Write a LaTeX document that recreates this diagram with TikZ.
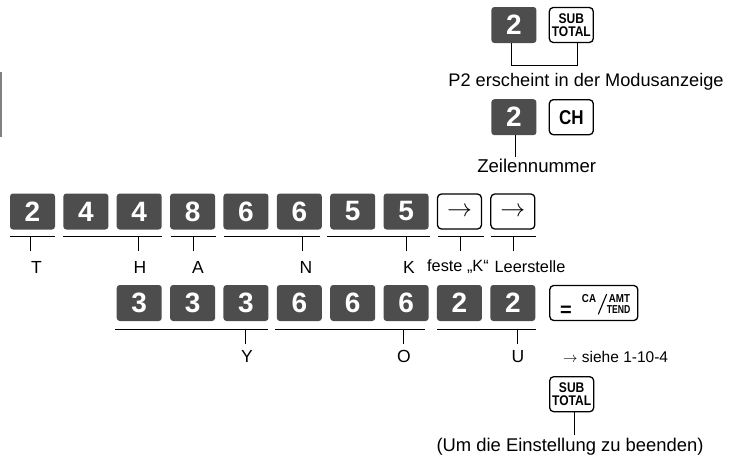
\documentclass[tikz,border=0pt]{standalone}
\usepackage{fontspec}
\setmainfont{Liberation Sans}
\definecolor{keygray}{HTML}{4D4D4D}
\tikzset{
  dkey/.style={fill=keygray, rounded corners=3pt, minimum width=45pt, minimum height=36pt, inner sep=0pt, text=white, font=\fontsize{28}{28}\selectfont\bfseries},
  wkey/.style={draw=black, line width=1.3pt, fill=white, rounded corners=4pt, minimum width=44pt, minimum height=35pt, inner sep=0pt},
  subkey/.style={wkey, font=\fontsize{14}{13.6}\selectfont\bfseries, align=center},
  lbl/.style={font=\fontsize{17.5}{18}\selectfont, inner sep=0pt},
  slbl/.style={font=\fontsize{16.3}{18}\selectfont, inner sep=0pt},
  stxt/.style={inner sep=0pt, font=\fontsize{11.5}{11.5}\selectfont\bfseries},
  uline/.style={line width=0.9pt},
}
\newcommand{\subtotaltext}{\scalebox{0.86}[1]{SUB}\\\scalebox{0.86}[1]{TOTAL}}
\begin{document}
\begin{tikzpicture}[x=1pt,y=-1pt]
\useasboundingbox (0,0) rectangle (736,463);
% left margin mark
\draw[gray, line width=1.5pt] (0.75,72) -- (0.75,137);

% ---- top: 2 SUBTOTAL
\node[dkey] (t2) at (513.9,25) {2};
\node[subkey] (tsub) at (571.3,25) {\subtotaltext};
\coordinate (bra) at (511,65);
\coordinate (brb) at (577.3,65);
\draw[uline] (t2.south -| bra) -- (bra) -- (brb) -- (tsub.south -| brb);
\node[font=\fontsize{18.2}{20}\selectfont, inner sep=0pt] (tmsg) at (586,81.7) {P2 erscheint in der Modusanzeige};

% ---- 2 CH
\node[dkey] (c2) at (513.9,117.2) {2};
\node[wkey, font=\fontsize{20}{20}\selectfont\bfseries] (ch) at (571.3,117.2) {\scalebox{0.85}[1]{CH}};
\coordinate (ctick) at (515,156.7);
\draw[uline] (c2.south -| ctick) -- (ctick);
\node[font=\fontsize{18.6}{20}\selectfont, inner sep=0pt] (zeile) at (536.7,165.7) {Zeilennummer};

% ---- row 1
\foreach \d/\i in {2/0,4/1,4/2,8/3,6/4,6/5,5/6,5/7}
  \node[dkey] (ra\i) at ({32.5+53.37*\i},211.5) {\d};
\foreach \i in {8,9}
  \node[wkey] (ra\i) at ({32.5+53.37*\i},211.5) {\fontsize{28}{28}\selectfont$\rightarrow$};

\foreach \n/\a/\b/\t in {T/10/55/30, H/63/162/138.5, A/171/216/193, N/224/320/302.5, K/327/430/406, F/438/484/460, L/491/536/513} {
  \coordinate (ua\n) at (\a,236);
  \coordinate (ub\n) at (\b,236);
  \coordinate (ut\n) at (\t,236);
  \coordinate (ud\n) at (\t,251);
  \draw[uline] (ua\n) -- (ub\n);
  \draw[uline] (ut\n) -- (ud\n);
}
\node[lbl] (lT) at (36.5,267) {T};
\node[lbl] (lH) at (140,267) {H};
\node[lbl] (lA) at (198,267) {A};
\node[lbl] (lN) at (306,267) {N};
\node[lbl] (lK) at (409,267) {K};
\node[slbl] (lF) at (458,267) {feste „K“};
\node[slbl] (lL) at (530,267) {Leerstelle};

% ---- row 2
\foreach \d/\i in {3/2,3/3,3/4,6/5,6/6,6/7,2/8,2/9}
  \node[dkey] (rb\i) at ({32.5+53.37*\i},303) {\d};
\node[wkey, minimum width=88pt] (catend) at (593.8,303) {};
\node[inner sep=0pt, font=\fontsize{20}{20}\selectfont\bfseries] (eqs) at (566,311) {=};
\node[stxt] (ca) at (589,299) {\scalebox{0.85}[1]{CA}};
\node[stxt] (amt) at (619.5,299) {\scalebox{0.85}[1]{AMT}};
\node[stxt] (tend) at (618.7,310) {\scalebox{0.75}[1]{TEND}};
\coordinate (sla) at (598.3,314.3);
\coordinate (slb) at (606.7,294);
\draw[line width=1.1pt] (sla) -- (slb);

\foreach \n/\a/\b/\t in {Y/115/268/245, O/275/425/403, U/437/536/517} {
  \coordinate (va\n) at (\a,329.5);
  \coordinate (vb\n) at (\b,329.5);
  \coordinate (vt\n) at (\t,329.5);
  \coordinate (vd\n) at (\t,343.5);
  \draw[uline] (va\n) -- (vb\n);
  \draw[uline] (vt\n) -- (vd\n);
}
\node[lbl] (lY) at (247,356.5) {Y};
\node[lbl] (lO) at (404,356.5) {O};
\node[lbl] (lU) at (518,356.5) {U};
\node[anchor=west, inner sep=0pt, font=\fontsize{15.5}{16}\selectfont] (siehe) at (563,357) {$\rightarrow$ siehe 1-10-4};

% ---- bottom SUBTOTAL
\node[subkey] (bsub) at (571.7,394.2) {\subtotaltext};
\coordinate (btick) at (574.3,435);
\draw[uline] (bsub.south -| btick) -- (btick);
\node[font=\fontsize{18.4}{20}\selectfont, inner sep=0pt] (ende) at (570,446.7) {(Um die Einstellung zu beenden)};
\end{tikzpicture}
\end{document}
